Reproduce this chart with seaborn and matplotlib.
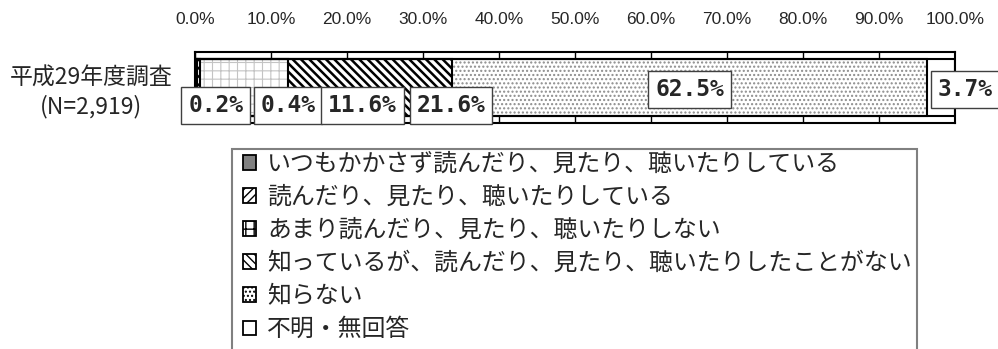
import matplotlib
matplotlib.use("Agg")
import matplotlib.pyplot as plt
from matplotlib.patches import Patch, Rectangle
import pandas as pd
import seaborn as sns

# data
categories = ["平成29年度調査\n(N=2,919)"]
responses = [
    "いつもかかさず読んだり、見たり、聴いたりしている",
    "読んだり、見たり、聴いたりしている",
    "あまり読んだり、見たり、聴いたりしない",
    "知っているが、読んだり、見たり、聴いたりしたことがない",
    "知らない",
    "不明・無回答",
]
shares = [0.2, 0.4, 11.6, 21.6, 62.5, 3.7]
x_ticks = [0, 10, 20, 30, 40, 50, 60, 70, 80, 90, 100]
x_tick_labels = ["0.0%", "10.0%", "20.0%", "30.0%", "40.0%", "50.0%",
                 "60.0%", "70.0%", "80.0%", "90.0%", "100.0%"]

# styling
face_colors = ["#808080", "white", "white", "white", "white", "white"]
hatches = [None, "////", "++", "\\\\\\\\", "....", None]
hatch_colors = ["black", "black", "#c4c4c4", "black", "#8c8c8c", "black"]
hatch_widths = [1, 1.5, 0.8, 1.8, 1, 1]
# label box offsets from the segment centre, in pixels
label_offsets = [(20, -18), (90, -18), (119, -18), (81, -18), (0, -2), (24, -2)]

sns.set_theme(style="white")
plt.rcParams["font.family"] = ["Noto Sans CJK JP", "DejaVu Sans"]
plt.rcParams["hatch.linewidth"] = 1.0

df = pd.DataFrame({
    "category": categories * len(responses),
    "response": responses,
    "share": shares,
})
df["cum"] = df["share"].cumsum()

fig = plt.figure(figsize=(9.98, 3.49), dpi=100)
ax = fig.add_axes([195 / 998, 1 - 123 / 349, 760 / 998, 71 / 349])

# stacked bar: draw cumulative bars from longest to shortest
for i in reversed(range(len(df))):
    sns.barplot(data=df.iloc[[i]], x="cum", y="category", orient="h",
                color=face_colors[i], saturation=1, width=0.79,
                errorbar=None, ax=ax)
    p = ax.patches[-1]
    p.set_hatch(hatches[i])
    p.set_edgecolor(hatch_colors[i])
    p.set_linewidth(0)
    if hasattr(p, "set_hatch_linewidth"):
        p.set_hatch_linewidth(hatch_widths[i])

# outlines of the segments
for i in reversed(range(len(df))):
    sns.barplot(data=df.iloc[[i]], x="cum", y="category", orient="h",
                fill=False, color="black", saturation=1, width=0.79,
                linewidth=1.5, errorbar=None, ax=ax)

ax.set_xlim(0, 100)
ax.set_ylim(0.5, -0.5)
ax.set_xticks(x_ticks)
ax.set_xticklabels(x_tick_labels, fontsize=12.5, family="Liberation Sans")
ax.xaxis.tick_top()
ax.tick_params(axis="x", length=0, pad=18)
ax.tick_params(axis="y", length=0, pad=16)
for lab in ax.get_yticklabels():
    lab.set_fontsize(16.5)
    lab.set_multialignment("center")
    lab.set_linespacing(1.25)
ax.set_xlabel("")
ax.set_ylabel("")
ax.xaxis.grid(True, color="black", linewidth=1)
ax.set_axisbelow(True)
for s in ax.spines.values():
    s.set_visible(True)
    s.set_color("black")
    s.set_linewidth(1.5)

# value labels
for i, row in df.iterrows():
    xc = row["cum"] - row["share"] / 2
    ax.annotate(f"{row['share']:.1f}%", xy=(xc, 0), xytext=label_offsets[i],
                textcoords="offset pixels", ha="center", va="center",
                fontsize=16.5, fontweight="bold", family="DejaVu Sans Mono",
                bbox=dict(boxstyle="square,pad=0.3", fc="white", ec="#404040", lw=1),
                annotation_clip=False, zorder=5)

# legend (frame drawn separately so it runs off the bottom)
handles = [Patch(facecolor=face_colors[i], edgecolor="black", hatch=hatches[i], linewidth=1.3)
           for i in range(len(responses))]
fig.legend(handles, responses, loc="upper left",
           bbox_to_anchor=(243 / 998, 1 - 153 / 349), frameon=False,
           borderpad=0, borderaxespad=0, fontsize=17.2,
           handlelength=0.55, handleheight=0.55, handletextpad=0.45,
           labelspacing=0.42)
fig.add_artist(Rectangle((232 / 998, -0.2), (917 - 232) / 998, 0.2 + 1 - 149 / 349,
                         transform=fig.transFigure, fill=False,
                         edgecolor="#808080", linewidth=1.5, clip_on=False))

fig.savefig("out.png", dpi=100)
